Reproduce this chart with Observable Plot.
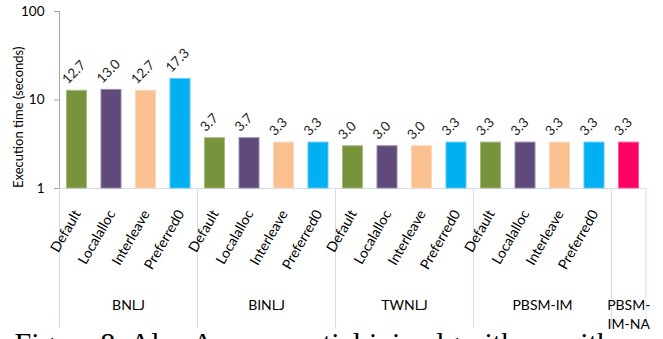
<!DOCTYPE html>
<html>
<head>
<meta charset="utf-8">
<script src="https://cdn.jsdelivr.net/npm/d3@7"></script>
<script src="https://cdn.jsdelivr.net/npm/@observablehq/plot@0.6"></script>
<style>
  html, body { margin: 0; padding: 0; background: #fff; overflow: hidden; }
  #chart svg { display: block; font-family: Lato, "Open Sans", sans-serif; }
</style>
</head>
<body>
<div id="chart"></div>
<script>
// Join algorithms (one group per algorithm) and the memory policies run for each
const groups = ["BNLJ", "BINLJ", "TWNLJ", "PBSM-IM", "PBSM-IM-NA"];
const policies = ["Default", "Localalloc", "Interleave", "Preferred0"];

// Execution time in seconds, per policy, for each algorithm
const bnlj = [12.7, 13.0, 12.7, 17.3];
const binlj = [3.7, 3.7, 3.3, 3.3];
const twnlj = [3.0, 3.0, 3.0, 3.3];
const pbsmIm = [3.3, 3.3, 3.3, 3.3];
const pbsmImNa = [3.3]; // NUMA-agnostic variant, single run

const policyColors = ["#77933c", "#604a7b", "#fac090", "#00b0f0"];
const naColor = "#ff0066";
const yTicks = [1, 10, 100];
const caption = "Figure 8: Also Across spatial join algorithms with varying memory policies";

// Flatten into one row per bar, with a running slot index along x
const seriesByGroup = [bnlj, binlj, twnlj, pbsmIm, pbsmImNa];
const rows = [];
const spans = [];
let slot = 0;
groups.forEach((g, gi) => {
  const vals = seriesByGroup[gi];
  const start = slot;
  vals.forEach((v, pi) => {
    const single = vals.length === 1;
    rows.push({
      group: g,
      policy: single ? "" : policies[pi],
      value: v,
      i: slot,
      color: single ? naColor : policyColors[pi]
    });
    slot++;
  });
  spans.push({group: g, start, end: slot, n: vals.length});
});
const boundaries = [0, ...spans.map(s => s.end)];
// a group with a single bar is too narrow for its name on one line
const wrapName = s => s.n === 1 ? s.group.replace(/^([^-]+-)/, "$1\n") : s.group;

const chart = Plot.plot({
  width: 663,
  height: 339,
  marginLeft: 59,
  marginRight: 17.5,
  marginTop: 11,
  marginBottom: 11,
  style: {background: "#fff", color: "#000"},
  x: {type: "linear", domain: [0, slot], axis: null},
  y: {type: "log", domain: [1, 100], range: [188, 11], axis: null},
  marks: [
    // category separators below the plot area
    Plot.ruleX(boundaries, {x: d => d, insetTop: 177, stroke: "#d4dcec", strokeWidth: 1}),
    // baseline
    Plot.ruleY([1], {x1: 0, x2: slot, stroke: "#d4dcec", strokeWidth: 1.2}),
    // value axis line and ticks
    Plot.ruleX([0], {y1: 1, y2: 100, stroke: "#a6a6a6"}),
    Plot.axisY({ticks: yTicks, tickSize: 5, tickPadding: 10, tickFormat: d => String(d),
      stroke: "#a6a6a6", fill: "#000", fontSize: 13.5, label: null}),
    Plot.text(["Execution time (seconds)"], {frameAnchor: "left", dx: -41, dy: 18, rotate: -90,
      fontSize: 13, fill: "#000"}),
    // bars
    Plot.rectY(rows, {
      x1: "i", x2: d => d.i + 1, y1: 1, y2: "value",
      fill: "color",
      stroke: d => d3.interpolateRgb(d.color, "#fff")(0.35),
      strokeWidth: 1,
      insetLeft: 7.5, insetRight: 7
    }),
    // value labels
    Plot.text(rows, {
      x: d => d.i + 0.5, y: "value", text: d => d.value.toFixed(1),
      rotate: -45, textAnchor: "start", lineAnchor: "bottom",
      dx: -9, dy: -6, fontSize: 13.5, fill: "#222"
    }),
    // policy labels
    Plot.text(rows.filter(d => d.policy), {
      x: d => d.i + 0.5, y: () => 1, text: "policy",
      rotate: -60, textAnchor: "end", lineAnchor: "bottom",
      dx: 4.5, dy: 25, fontSize: 14, fill: "#000"
    }),
    // algorithm labels
    Plot.text(spans, {
      x: s => (s.start + s.end) / 2, frameAnchor: "bottom", text: wrapName,
      lineAnchor: "top", lineHeight: 1.36, dy: -32, fontSize: 14, fill: "#000"
    }),
    // figure caption, running on past the bottom edge
    Plot.text([caption], {
      frameAnchor: "bottom-left", textAnchor: "start", lineAnchor: "bottom",
      dx: -45, dy: 24, fontSize: 30, fill: "#000",
      fontFamily: "'Liberation Serif', 'Times New Roman', serif"
    })
  ]
});
document.getElementById("chart").appendChild(chart);
</script>
</body>
</html>
